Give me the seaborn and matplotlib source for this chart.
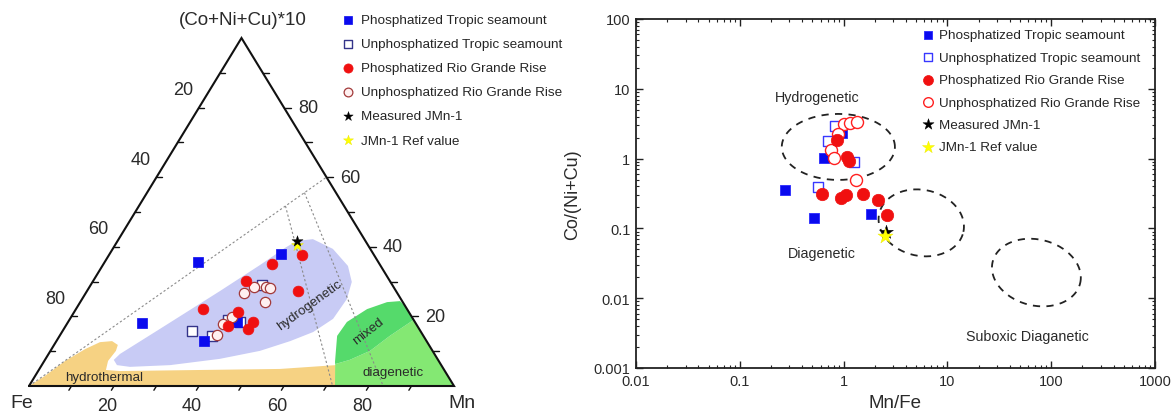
import numpy as np
import matplotlib
matplotlib.use("Agg")
import matplotlib.pyplot as plt
import seaborn as sns
from matplotlib.patches import Polygon
from matplotlib.ticker import LogLocator, NullFormatter

sns.set_theme(style="ticks")
plt.rcParams["font.family"] = ["Liberation Sans", "DejaVu Sans"]

# ---------------------------------------------------------------- data
series_labels = [
    "Phosphatized Tropic seamount",
    "Unphosphatized Tropic seamount",
    "Phosphatized Rio Grande Rise",
    "Unphosphatized Rio Grande Rise",
    "Measured JMn-1",
    "JMn-1 Ref value",
]

# Ternary compositions (percent): Mn and (Co+Ni+Cu)*10; Fe is the remainder
tern_pt_mn = [22.0, 17.5, 34.7, 40.3, 39.7]
tern_pt_c = [35.6, 18.1, 12.9, 37.9, 18.4]
tern_ut_mn = [30.5, 35.9, 37.3, 40.5, 40.3]
tern_ut_c = [15.8, 14.4, 19.0, 18.4, 29.0]
tern_pr_mn = [45.4, 39.6, 36.0, 49.6, 29.9, 38.5, 43.5, 43.3, 38.2]
tern_pr_c = [37.6, 35.1, 30.2, 27.3, 22.1, 21.3, 18.4, 16.4, 17.2]
tern_ur_mn = [37.9, 36.8, 36.9, 38.7, 37.2, 41.6, 42.6, 43.5]
tern_ur_c = [19.8, 17.8, 14.7, 28.4, 26.7, 28.4, 28.2, 24.1]
tern_meas_mn, tern_meas_c = [42.2], [41.7]
tern_ref_mn, tern_ref_c = [42.8], [40.5]

# Mn/Fe ratio lines drawn in the ternary
guide_ratios = [2.5, 5.0]
guide_end_mn, guide_end_c = 40.0, 60.0

# Ternary fields, outlines as (Mn, Co+Ni+Cu) percent
field_hydrothermal_mn = [0, 2.3, 4.9, 7.9, 10.4, 13.1, 15.0, 15.4, 15.0, 15.8, 19.3, 37.9, 56.6, 69.2, 72.2]
field_hydrothermal_c = [0, 2.9, 7.2, 10.6, 12.6, 12.9, 11.8, 10.1, 7.2, 4.6, 4.3, 4.6, 4.9, 6.0, 0]
field_hydrogenetic_mn = [42.2, 45.7, 51.8, 57.8, 61.0, 62.3, 61.9, 59.1, 55.0, 49.3, 41.0, 30.2, 21.0,
                         17.7, 16.2, 16.8, 22.6, 31.3, 37.0, 40.4]
field_hydrogenetic_c = [41.7, 42.2, 39.4, 34.5, 29.9, 25.0, 19.3, 15.5, 12.9, 10.1, 7.8, 6.0, 5.5,
                        6.0, 7.5, 9.2, 16.4, 27.3, 34.8, 39.7]
field_mixed_mn = [68.9, 68.55, 65.3, 65.6, 68.5, 72.2, 75.1, 77.0, 81.0, 77.7, 75.2, 71.7]
field_mixed_c = [6.3, 6.9, 14.4, 18.4, 22.1, 24.1, 24.4, 23.0, 19.0, 14.4, 10.1, 7.5]
field_diagenetic_mn = [72.0, 68.9, 71.7, 75.2, 77.7, 81.0, 100.0]
field_diagenetic_c = [0, 6.3, 7.5, 10.1, 14.4, 19.0, 0]

# Discrimination plot: Mn/Fe vs Co/(Ni+Cu)
mnfe_pt = [0.27, 0.52, 0.65, 1.85, 0.97]
conc_pt = [0.35, 0.14, 1.02, 0.16, 2.33]
mnfe_ut = [0.83, 0.71, 1.27, 0.57]
conc_ut = [2.93, 1.79, 0.90, 0.39]
mnfe_pr = [0.87, 1.08, 1.13, 0.62, 0.95, 1.06, 1.55, 2.16, 2.63]
conc_pr = [1.85, 1.06, 0.93, 0.31, 0.275, 0.30, 0.31, 0.257, 0.157]
mnfe_ur = [1.01, 1.16, 1.35, 0.89, 0.76, 0.81, 1.32]
conc_ur = [3.13, 3.24, 3.35, 2.25, 1.33, 1.02, 0.50]
mnfe_meas, conc_meas = [2.55], [0.090]
mnfe_ref, conc_ref = [2.52], [0.079]

# Field ellipses: centre (Mn/Fe, Co/(Ni+Cu)), semi-axes in x-decades, tilt in degrees
ellipse_cx = [0.89, 5.6, 72.0]
ellipse_cy = [1.47, 0.12, 0.0233]
ellipse_a = [0.545, 0.415, 0.434]
ellipse_b = [0.318, 0.318, 0.318]
ellipse_tilt = [0.0, -12.0, -14.0]

x_ticks = [0.01, 0.1, 1, 10, 100, 1000]
x_tick_labels = ["0.01", "0.1", "1", "10", "100", "1000"]
y_ticks = [0.001, 0.01, 0.1, 1, 10, 100]
y_tick_labels = ["0.001", "0.01", "0.1", "1", "10", "100"]

# ---------------------------------------------------------------- figure
W, H = 1176, 414
fig = plt.figure(figsize=(W / 100, H / 100), dpi=100)

BLUE = "#0a0aee"
RED = "#f01010"
TXT = "#2a2a2a"


def tern_xy(mn, c):
    mn = np.asarray(mn, float)
    c = np.asarray(c, float)
    return mn + c / 2.0, c


# ---- ternary panel (x = Mn + C/2, y = C)
ax_t = fig.add_axes([0, 0, 580 / W, 1])
sx, sy = 4.25, 3.48  # pixels per percent along base / height
ax_t.set_xlim(-29 / sx, (580 - 29) / sx)
ax_t.set_ylim(-(H - 387) / sy, 387 / sy)
ax_t.axis("off")

fields = [
    (field_hydrothermal_mn, field_hydrothermal_c, "#f6d283"),
    (field_hydrogenetic_mn, field_hydrogenetic_c, "#c8cbf5"),
    (field_diagenetic_mn, field_diagenetic_c, "#84e873"),
    (field_mixed_mn, field_mixed_c, "#55da6b"),
]
for mn, c, col in fields:
    fx, fy = tern_xy(mn, c)
    ax_t.add_patch(Polygon(np.column_stack([fx, fy]), closed=True, facecolor=col,
                           edgecolor="none", zorder=1))

# guide lines
gx, gy = tern_xy([0, guide_end_mn], [0, guide_end_c])
ax_t.plot(gx, gy, color="#8a8a8a", lw=0.8, ls=(0, (2, 2)), zorder=2)
for r in guide_ratios:
    t = 100 * r / (guide_end_mn + 100 * r)
    top_mn, top_c = guide_end_mn * t, guide_end_c * t
    base_mn = 100 * r / (1 + r)
    lx, ly = tern_xy([top_mn, base_mn], [top_c, 0])
    ax_t.plot(lx, ly, color="#8a8a8a", lw=0.8, ls=(0, (2, 2)), zorder=2)

# triangle frame
ax_t.plot([0, 100, 50, 0], [0, 0, 100, 0], color="#111111", lw=1.5, zorder=5,
          solid_joinstyle="miter")

tick_fs = 13
for v in range(10, 100, 10):
    # bottom axis: Mn
    ax_t.plot([v, v - 0.61], [0, -1.22], color="#111111", lw=1.0, zorder=5)
    # left axis: Fe
    cl = 100 - v
    ax_t.plot([cl / 2, cl / 2 + 5 / sx], [cl, cl], color="#111111", lw=1.0, zorder=5)
    # right axis: Co+Ni+Cu
    xr = 100 - v / 2
    ax_t.plot([xr, xr + 6.5 / sx], [v, v], color="#111111", lw=1.0, zorder=5)
    if v in (20, 40, 60, 80):
        ax_t.text(v - 1.65, -5.46, f"{v}", ha="center", va="center", fontsize=tick_fs, color=TXT)
        ax_t.text(cl / 2 - 3.76, cl + 5.17, f"{v}", ha="center", va="center", fontsize=tick_fs, color=TXT)
        ax_t.text(xr + 14 / sx, v, f"{v}", ha="left", va="center", fontsize=tick_fs, color=TXT)

ax_t.text(50.4, 105.2, "(Co+Ni+Cu)*10", ha="center", va="center", fontsize=13.5, color=TXT)
ax_t.text(-1.65, -4.6, "Fe", ha="center", va="center", fontsize=14, color=TXT)
ax_t.text(101.9, -4.6, "Mn", ha="center", va="center", fontsize=14, color=TXT)

ax_t.text(17.6, 2.6, "hydrothermal", ha="center", va="center", fontsize=9.6, color=TXT, zorder=3)
ax_t.text(66.1, 23.3, "hydrogenetic", ha="center", va="center", fontsize=9.6, color=TXT,
          rotation=36, zorder=3)
ax_t.text(79.8, 15.8, "mixed", ha="center", va="center", fontsize=9.6, color=TXT,
          rotation=38, zorder=3)
ax_t.text(85.6, 4.0, "diagenetic", ha="center", va="center", fontsize=9.6, color=TXT, zorder=3)

tern_series = [
    (tern_ut_mn, tern_ut_c, dict(marker="s", s=42, color="white", edgecolor="#34348a", linewidth=1.0), 1),
    (tern_pt_mn, tern_pt_c, dict(marker="s", s=42, color=BLUE, edgecolor=BLUE, linewidth=0.5), 0),
    (tern_ur_mn, tern_ur_c, dict(marker="o", s=55, color="#fff0f0", edgecolor="#a23a3a", linewidth=0.9), 3),
    (tern_pr_mn, tern_pr_c, dict(marker="o", s=60, color=RED, edgecolor=RED, linewidth=0.5), 2),
    (tern_ref_mn, tern_ref_c, dict(marker="*", s=80, color="#ffff00", edgecolor="#e6e600", linewidth=0.3), 5),
    (tern_meas_mn, tern_meas_c, dict(marker="*", s=70, color="black", edgecolor="black", linewidth=0.3), 4),
]
for mn, c, kw, li in tern_series:
    px, py = tern_xy(mn, c)
    sns.scatterplot(x=px, y=py, ax=ax_t, label=series_labels[li], zorder=6, **kw)

h, l = ax_t.get_legend_handles_labels()
order = [l.index(s) for s in series_labels]
ax_t.legend([h[i] for i in order], [l[i] for i in order], loc="upper left",
            bbox_to_anchor=(341 / W, 1 - 15 / H), bbox_transform=fig.transFigure,
            frameon=False, fontsize=9.7, handlelength=1.0, handletextpad=0.5,
            labelspacing=0.86, borderpad=0, borderaxespad=0, markerscale=0.85)

# ---- Mn/Fe vs Co/(Ni+Cu) panel
ax_r = fig.add_axes([636 / W, 1 - 369 / H, (1155 - 636) / W, (369 - 20) / H])
ax_r.set(xscale="log", yscale="log")

bb = ax_r.get_position()
k = (bb.height * H) / (bb.width * W)  # display height of a y-decade relative to an x-decade
tt = np.linspace(0, 2 * np.pi, 200)
for cx, cy, a, b, tilt in zip(ellipse_cx, ellipse_cy, ellipse_a, ellipse_b, ellipse_tilt):
    ph = np.deg2rad(tilt)
    u, v = a * np.cos(tt), b * np.sin(tt)
    lx = np.log10(cx) + u * np.cos(ph) - v * np.sin(ph)
    ly = np.log10(cy) + (u * np.sin(ph) + v * np.cos(ph)) / k
    ax_r.plot(10 ** lx, 10 ** ly, color="#222222", lw=1.3, ls=(0, (4, 3.5)), zorder=2)

r_series = [
    (mnfe_pt, conc_pt, dict(marker="s", s=55, color=BLUE, edgecolor="#2a2aff", linewidth=0.6), 0),
    (mnfe_ut, conc_ut, dict(marker="s", s=55, color="white", edgecolor="#3838ff", linewidth=1.0), 1),
    (mnfe_ur, conc_ur, dict(marker="o", s=75, color="white", edgecolor="#ff2020", linewidth=1.0), 3),
    (mnfe_pr, conc_pr, dict(marker="o", s=80, color=RED, edgecolor=RED, linewidth=0.5), 2),
    (mnfe_meas, conc_meas, dict(marker="*", s=110, color="black", edgecolor="black", linewidth=0.3), 4),
    (mnfe_ref, conc_ref, dict(marker="*", s=130, color="#ffff00", edgecolor="#e8e800", linewidth=0.3), 5),
]
for xv, yv, kw, li in r_series:
    sns.scatterplot(x=xv, y=yv, ax=ax_r, label=series_labels[li], zorder=6, **kw)

ax_r.set_xlim(x_ticks[0], x_ticks[-1])
ax_r.set_ylim(y_ticks[0], y_ticks[-1])
ax_r.set_xticks(x_ticks)
ax_r.set_xticklabels(x_tick_labels)
ax_r.set_yticks(y_ticks)
ax_r.set_yticklabels(y_tick_labels)
ax_r.xaxis.set_minor_locator(LogLocator(base=10, subs=np.arange(2, 10)))
ax_r.yaxis.set_minor_locator(LogLocator(base=10, subs=np.arange(2, 10)))
ax_r.xaxis.set_minor_formatter(NullFormatter())
ax_r.yaxis.set_minor_formatter(NullFormatter())
ax_r.tick_params(which="both", direction="in", top=True, right=True, color="#222222")
ax_r.tick_params(which="major", length=5, width=1.0, labelsize=10.5, labelcolor=TXT, pad=4)
ax_r.tick_params(which="minor", length=2.5, width=0.8)
for sp in ax_r.spines.values():
    sp.set_color("#222222")
    sp.set_linewidth(1.3)
ax_r.set_xlabel("Mn/Fe", fontsize=13.5, color=TXT, labelpad=5)
ax_r.set_ylabel("Co/(Ni+Cu)", fontsize=13, color=TXT, labelpad=9)

ax_r.text(0.556, 7.6, "Hydrogenetic", ha="center", va="center", fontsize=10.3, color=TXT)
ax_r.text(0.62, 0.045, "Diagenetic", ha="center", va="center", fontsize=10.3, color=TXT)
ax_r.text(59, 0.00284, "Suboxic Diaganetic", ha="center", va="center", fontsize=10.3, color=TXT)

h, l = ax_r.get_legend_handles_labels()
order = [l.index(s) for s in series_labels]
ax_r.legend([h[i] for i in order], [l[i] for i in order], loc="upper left",
            bbox_to_anchor=(921 / W, 1 - 30 / H), bbox_transform=fig.transFigure,
            frameon=False, fontsize=9.7, handlelength=1.0, handletextpad=0.35,
            labelspacing=0.74, borderpad=0, borderaxespad=0, markerscale=0.8)

fig.savefig("out.png", dpi=100)
